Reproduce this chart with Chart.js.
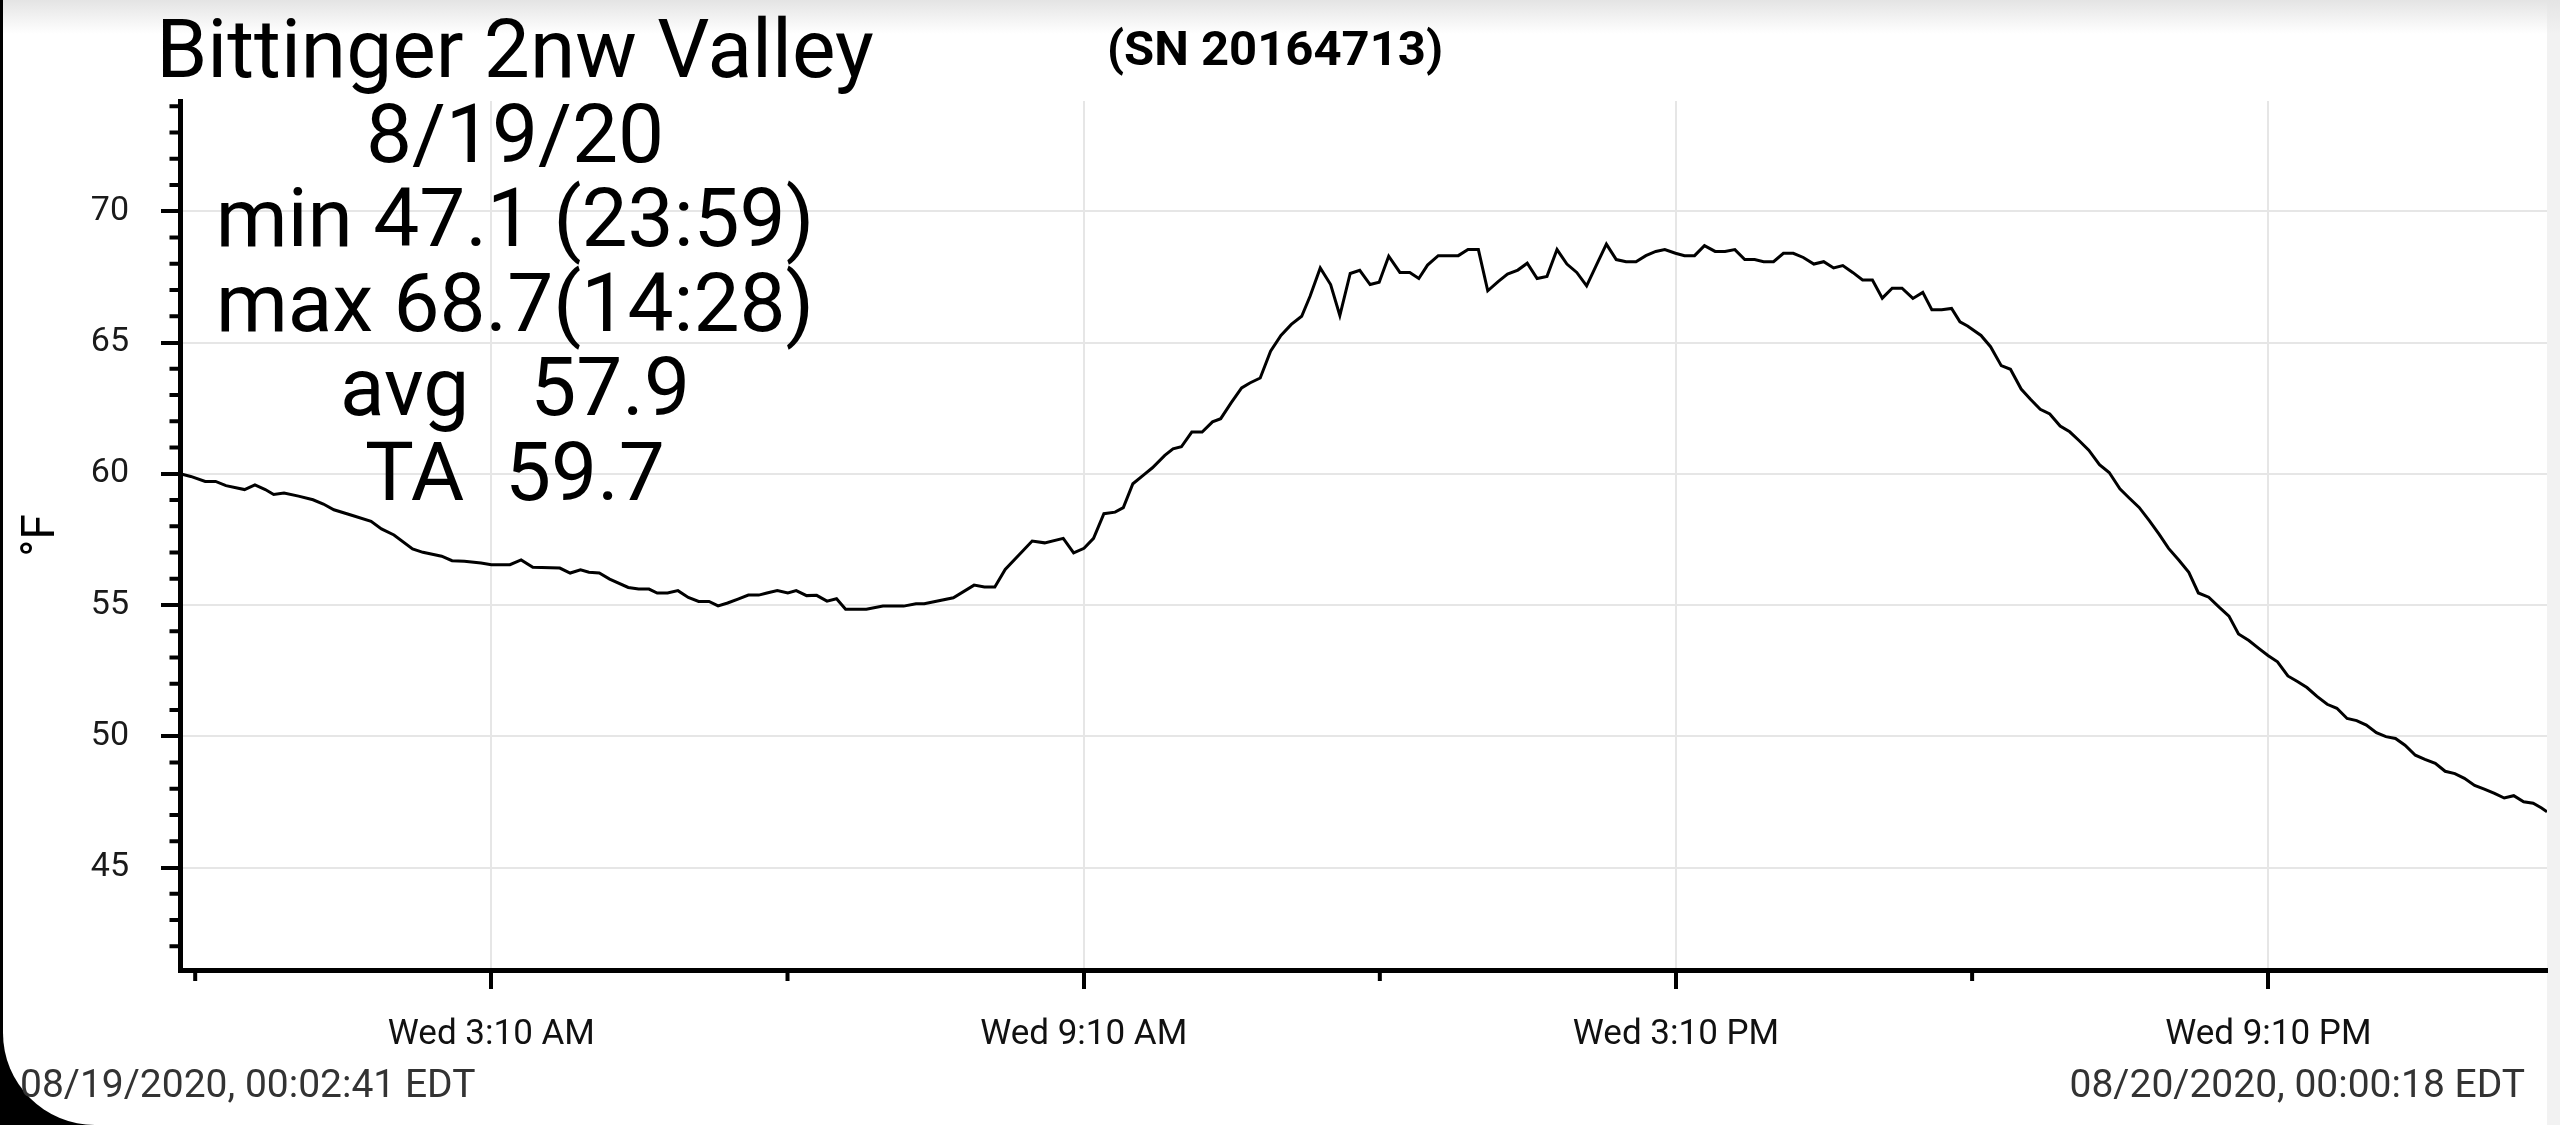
<!DOCTYPE html>
<html>
<head>
<meta charset="utf-8">
<script src="https://cdn.jsdelivr.net/npm/chart.js@4.4.0/dist/chart.umd.min.js"></script>
<style>
  html, body { margin:0; padding:0; width:2560px; height:1125px; overflow:hidden; background:#000; }
  #card { position:absolute; left:3px; top:0; width:2544px; height:1125px; background:#fff; border-bottom-left-radius:92px; }
  #strip { position:absolute; left:2547px; top:0; width:13px; height:1125px; background:#f2f2f2; }
  #fade { position:absolute; left:3px; top:0; width:2557px; height:34px; background:linear-gradient(#e4e4e4, rgba(255,255,255,0)); }
  #c { position:absolute; left:0; top:0; }
</style>
</head>
<body>
<div id="card"></div>
<div id="strip"></div>
<div id="fade"></div>
<canvas id="c" width="2560" height="1125"></canvas>
<script>
// ---- data (minutes after midnight, °F) ----
const times = [
  0.8, 7.3, 16.1, 22.4, 28.7, 40.0, 46.3, 52.6, 57.7, 64.0, 72.8, 81.6, 87.9,
  94.3, 105.6, 116.9, 123.2, 130.8, 142.1, 148.4, 159.8, 166.1, 173.6, 183.7, 190.0, 201.3, 208.1, 215.2,
  231.6, 237.9, 244.2, 249.3, 255.6, 261.9, 273.2, 279.5, 285.8, 290.8, 297.1, 303.4, 309.7, 316.0, 322.3,
  327.8, 333.6, 339.9, 346.2, 352.5, 357.5, 363.8,
  370.2, 375.3, 381.6, 387.7, 394.0, 399.8, 405.3, 417.9, 428.0, 440.6, 448.1, 453.1, 470.8, 483.4, 489.7,
  496.0, 502.3,
  518.7, 526.3, 537.6, 543.9, 550.2, 556.0, 562.3, 569.1, 574.1, 579.9, 586.7, 591.8, 599.3, 604.3, 609.4,
  615.7, 622.0, 628.3, 633.3, 639.6,
  646.0, 651.0, 657.3, 663.6, 669.9, 676.2, 682.5, 687.6, 693.8, 700.1, 705.7, 712.0, 717.8, 724.1, 729.6,
  735.4, 742.2, 748.2, 753.7, 759.0, 765.5, 777.7,
  783.6, 789.9, 795.6, 801.9, 807.6, 813.9, 819.6, 825.6, 831.6, 837.7, 843.7, 849.7, 855.7, 861.7, 867.7,
  873.7, 879.7, 885.7, 891.7, 897.7, 903.2, 909.7, 915.2,
  921.3, 927.3, 933.8, 939.8, 945.8, 951.8, 957.8, 963.3, 969.3, 975.3, 981.3, 987.4, 993.8, 999.8, 1005.8,
  1011.4, 1017.4, 1023.4, 1029.4, 1035.4, 1041.4, 1047.4,
  1054.0, 1060.0, 1065.5, 1071.5, 1077.5, 1082.6, 1087.2, 1095.4, 1101.2, 1107.7, 1113.3, 1119.8, 1125.6,
  1131.4, 1137.2, 1143.5, 1149.3, 1155.1, 1160.9, 1167.4, 1173.3, 1179.8, 1185.3,
  1191.5, 1197.8, 1203.6, 1209.4, 1215.7, 1221.7, 1227.5, 1233.8, 1240.1, 1246.1, 1251.9, 1258.2, 1264.0,
  1269.8, 1275.6, 1281.9, 1287.7, 1293.5, 1299.6, 1305.8, 1311.7, 1317.9, 1323.7,
  1329.6, 1335.7, 1341.5, 1347.3, 1353.1, 1359.4, 1365.2, 1371.5, 1377.5, 1383.4, 1389.2, 1395.4, 1401.3,
  1407.5, 1413.4, 1419.2, 1425.2, 1431.0, 1436.1, 1439.4
];
const temps = [
  60.0, 59.9, 59.71, 59.71, 59.55, 59.40, 59.58, 59.40, 59.21, 59.27, 59.15, 59.01, 58.85, 58.63, 58.41, 58.19, 57.90, 57.67,
  57.14, 57.01, 56.86, 56.69, 56.67, 56.60, 56.54, 56.54, 56.72, 56.44, 56.41, 56.22, 56.34, 56.25, 56.22, 55.99,
  55.67, 55.61, 55.61, 55.46, 55.46, 55.55, 55.29, 55.14, 55.14, 54.97, 55.08, 55.23, 55.38, 55.38, 55.46, 55.55,
  55.46, 55.55, 55.36, 55.37, 55.15, 55.24, 54.84, 54.84, 54.96, 54.96, 55.05, 55.05, 55.28, 55.76, 55.69, 55.69,
  56.36, 57.44, 57.37, 57.54, 56.99, 57.16, 57.54, 58.48, 58.54, 58.71, 59.62, 59.97, 60.23, 60.70, 60.95, 61.03,
  61.59, 61.59, 61.98, 62.10, 62.70, 63.27, 63.46, 63.65, 64.67, 65.27, 65.69, 66.00, 66.76, 67.84, 67.21, 66.03,
  67.63, 67.75, 67.21, 67.30, 68.29, 67.67, 67.67, 67.44, 67.95, 68.31, 68.31, 68.54, 68.54, 66.97, 67.32, 67.61,
  67.76, 68.02, 67.44, 67.52, 68.54, 67.99, 67.67, 67.16, 67.96, 68.75, 68.16, 68.08, 68.08, 68.31, 68.47, 68.54,
  68.40, 68.31, 68.31, 68.69, 68.47, 68.47, 68.54, 68.16, 68.16, 68.08, 68.08, 68.40, 68.40, 68.24, 67.99, 68.08,
  67.84, 67.93, 67.67, 67.38, 67.38, 66.69, 67.07, 67.07, 66.68, 66.91, 66.25, 66.25, 66.30, 65.79,
  65.63, 65.27, 64.84, 64.12, 63.98, 63.23, 62.83, 62.46, 62.28, 61.82, 61.60, 61.26, 60.90, 60.35,
  60.05, 59.43, 59.09, 58.72, 58.21, 57.70, 57.16, 56.71, 56.25, 55.46, 55.30, 54.92, 54.58, 53.90,
  53.65, 53.36, 53.08, 52.84, 52.30, 52.09, 51.86, 51.52, 51.22, 51.07, 50.68, 50.60, 50.43, 50.14,
  49.99, 49.92, 49.66, 49.28, 49.12, 48.97, 48.67, 48.58, 48.40, 48.13, 47.99, 47.83, 47.65, 47.74,
  47.51, 47.45, 47.27, 47.13
];

// ---- axes / tick labels ----
const xMin = 0.76, xMax = 1439.4;
const xMajorTicks = [190, 550, 910, 1270];
const xMajorLabels = ['Wed 3:10 AM', 'Wed 9:10 AM', 'Wed 3:10 PM', 'Wed 9:10 PM'];
const xMinorTicks = [10, 370, 730, 1090];
const yMin = 41.1, yMax = 74.2;
const yMajorTicks = [45, 50, 55, 60, 65, 70];
const yMinorFrom = 42, yMinorTo = 74;
const yTitle = '°F';

// ---- texts ----
const titleLines = ['Bittinger 2nw Valley', '8/19/20', 'min 47.1 (23:59)', 'max 68.7(14:28)', 'avg   57.9', 'TA  59.7'];
const serialText = '(SN 20164713)';
const startStamp = '08/19/2020, 00:02:41 EDT';
const endStamp = '08/20/2020, 00:00:18 EDT';

const yAllTicks = [];
for (let v = yMinorFrom; v <= yMinorTo; v++) yAllTicks.push(v);
const xAllTicks = xMinorTicks.concat(xMajorTicks).sort((a, b) => a - b);
const isXMajor = v => xMajorTicks.indexOf(v) >= 0;
const isYMajor = v => yMajorTicks.indexOf(v) >= 0;
const CLEAR = 'rgba(0,0,0,0)';
const GRID = '#e6e6e6';

const minorTicksPlugin = {
  id: 'minorTicks',
  afterDraw(chart) {
    const ctx = chart.ctx, x = chart.scales.x, y = chart.scales.y, a = chart.chartArea;
    ctx.save();
    ctx.strokeStyle = '#000';
    ctx.lineWidth = 4;
    ctx.beginPath();
    xMinorTicks.forEach(v => {
      const px = x.getPixelForValue(v);
      ctx.moveTo(px, a.bottom); ctx.lineTo(px, a.bottom + 11);
    });
    yAllTicks.filter(v => !isYMajor(v)).forEach(v => {
      const py = y.getPixelForValue(v);
      ctx.moveTo(a.left, py); ctx.lineTo(a.left - 10.5, py);
    });
    ctx.stroke();
    ctx.restore();
  }
};

const textPlugin = {
  id: 'texts',
  afterDraw(chart) {
    const ctx = chart.ctx;
    ctx.save();
    ctx.fillStyle = '#000';
    ctx.textBaseline = 'alphabetic';
    ctx.textAlign = 'center';
    ctx.font = '82px Roboto';
    titleLines.forEach((t, i) => ctx.fillText(t, 515, 77 + i * 84.6));
    ctx.font = 'bold 49px Roboto';
    ctx.fillText(serialText, 1275, 65);
    ctx.font = '39px Roboto';
    ctx.fillStyle = '#333';
    ctx.textAlign = 'left';
    ctx.fillText(startStamp, 20, 1097);
    ctx.textAlign = 'right';
    ctx.fillText(endStamp, 2525, 1097);
    ctx.restore();
  }
};

new Chart(document.getElementById('c'), {
  type: 'line',
  data: {
    datasets: [{
      data: times.map((t, i) => ({ x: t, y: temps[i] })),
      borderColor: '#000',
      borderWidth: 3,
      pointRadius: 0,
      tension: 0,
      fill: false
    }]
  },
  options: {
    responsive: false,
    animation: false,
    devicePixelRatio: 1,
    layout: { padding: { top: 101, right: 13, left: 0, bottom: 0 } },
    plugins: { legend: { display: false }, tooltip: { enabled: false }, title: { display: false } },
    scales: {
      x: {
        type: 'linear',
        min: xMin, max: xMax,
        afterBuildTicks: s => { s.ticks = xAllTicks.map(v => ({ value: v })); },
        afterFit: s => { s.height = 155; },
        border: { color: '#000', width: 5 },
        grid: {
          color: c => (c.tick && isXMajor(c.tick.value)) ? GRID : CLEAR,
          lineWidth: 2,
          tickLength: 19,
          tickWidth: 4,
          tickColor: c => (c.tick && isXMajor(c.tick.value)) ? '#000' : CLEAR
        },
        ticks: {
          autoSkip: false, maxRotation: 0, minRotation: 0, padding: 25,
          color: '#111', font: { family: 'Roboto', size: 35 },
          callback: v => { const i = xMajorTicks.indexOf(v); return i >= 0 ? xMajorLabels[i] : ''; }
        }
      },
      y: {
        min: yMin, max: yMax,
        afterBuildTicks: s => { s.ticks = yAllTicks.map(v => ({ value: v })); },
        afterFit: s => { s.width = 180; },
        border: { color: '#000', width: 5 },
        grid: {
          color: c => (c.tick && isYMajor(c.tick.value)) ? GRID : CLEAR,
          lineWidth: 2,
          tickLength: 19,
          tickWidth: 4,
          tickColor: c => (c.tick && isYMajor(c.tick.value)) ? '#000' : CLEAR
        },
        ticks: {
          autoSkip: false, padding: 32,
          color: '#1a1a1a', font: { family: 'Roboto', size: 34 },
          callback: v => isYMajor(v) ? String(v) : ''
        },
        title: {
          display: true, text: yTitle, color: '#000',
          font: { family: 'Roboto', size: 46 },
          padding: { top: 15, bottom: 0 }
        }
      }
    }
  },
  plugins: [minorTicksPlugin, textPlugin]
});
</script>
</body>
</html>
